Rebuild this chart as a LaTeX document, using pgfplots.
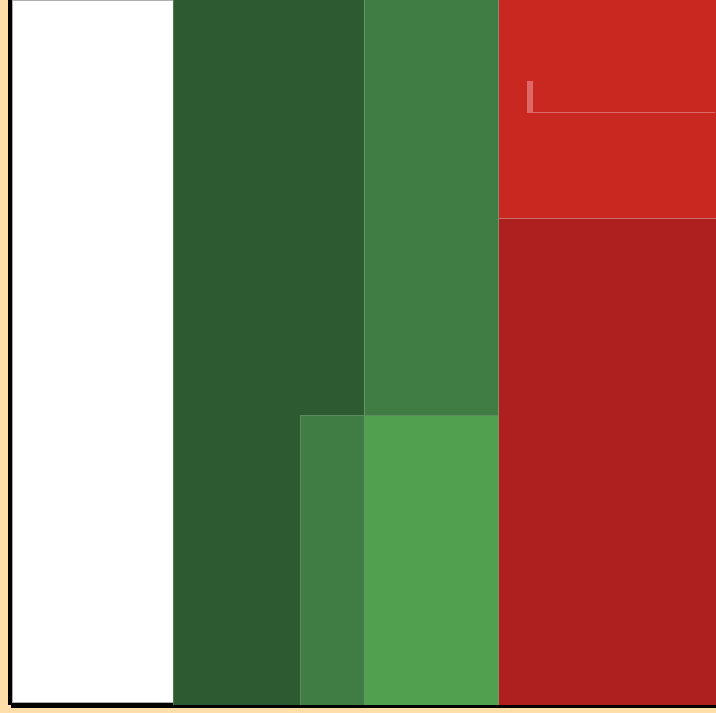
\documentclass[border=0pt]{standalone}
\usepackage{pgfplots}
\pgfplotsset{compat=1.18}
\definecolor{bg}{RGB}{255,222,170}
\definecolor{dgreen}{RGB}{45,90,46}
\definecolor{mgreen}{RGB}{64,125,68}
\definecolor{lgreen}{RGB}{80,160,80}
\definecolor{tred}{RGB}{201,40,32}
\definecolor{dred}{RGB}{174,32,32}
\definecolor{pinkline}{RGB}{222,104,104}
\definecolor{edge}{RGB}{92,140,94}
\begin{document}
\begin{tikzpicture}
\begin{axis}[scale only axis, width=716pt, height=713pt,
  xmin=0, xmax=716, ymin=0, ymax=713, hide axis, clip=true]
% background
\addplot[fill=bg, draw=none] coordinates {(0,0) (716,0) (716,713) (0,713)} -- cycle;
% black frame (left and bottom)
\addplot[fill=black, draw=none] coordinates {(8.3,8) (12.5,8) (12.5,713) (8.3,713)} -- cycle;
\addplot[fill=black, draw=none] coordinates {(11,5.3) (716,5.3) (716,10) (11,10)} -- cycle;
% white panel
\addplot[fill=white, draw=none] coordinates {(12.5,10) (173.3,10) (173.3,713) (12.5,713)} -- cycle;
\addplot[draw={rgb,255:red,175;green,175;blue,175}, line width=0.8pt] coordinates {(12.8,713) (12.8,10.4) (173.3,10.4)};
\addplot[draw={rgb,255:red,175;green,175;blue,175}, line width=0.8pt] coordinates {(12.8,712.2) (173.3,712.2)};
% dark green
\addplot[fill=dgreen, draw=none] coordinates {(173.3,7.5) (364,7.5) (364,713) (173.3,713)} -- cycle;
% medium green lower
\addplot[fill=mgreen, draw=none] coordinates {(300,7.5) (364,7.5) (364,298) (300,298)} -- cycle;
% medium green upper
\addplot[fill=mgreen, draw=none] coordinates {(364,298) (498,298) (498,714) (364,714)} -- cycle;
% light green
\addplot[fill=lgreen, draw=none] coordinates {(364,7.5) (498,7.5) (498,298) (364,298)} -- cycle;
% green edges
\addplot[draw=edge, line width=0.5pt] coordinates {(300,7.5) (300,298) (498,298)};
\addplot[draw={rgb,255:red,100;green,150;blue,100}, line width=0.5pt] coordinates {(364,7.5) (364,713)};
\addplot[draw={rgb,255:red,80;green,120;blue,80}, line width=0.4pt] coordinates {(173.5,7.5) (173.5,713)};
% dark red
\addplot[fill=dred, draw=none] coordinates {(498,7.5) (716,7.5) (716,495) (498,495)} -- cycle;
% top red
\addplot[fill=tred, draw=none] coordinates {(498,495) (716,495) (716,713) (498,713)} -- cycle;
% separators
\addplot[draw={rgb,255:red,200;green,110;blue,100}, line width=0.5pt] coordinates {(498,495) (716,495)};
\addplot[draw={rgb,255:red,120;green,150;blue,110}, line width=0.6pt] coordinates {(498,7.5) (498,713)};
% pink marks
\addplot[fill=pinkline, draw=none] coordinates {(526.5,600) (532.5,600) (532.5,632) (526.5,632)} -- cycle;
\addplot[draw=pinkline, line width=0.9pt] coordinates {(527,600.5) (715,600.5)};
\end{axis}
\end{tikzpicture}
\end{document}
